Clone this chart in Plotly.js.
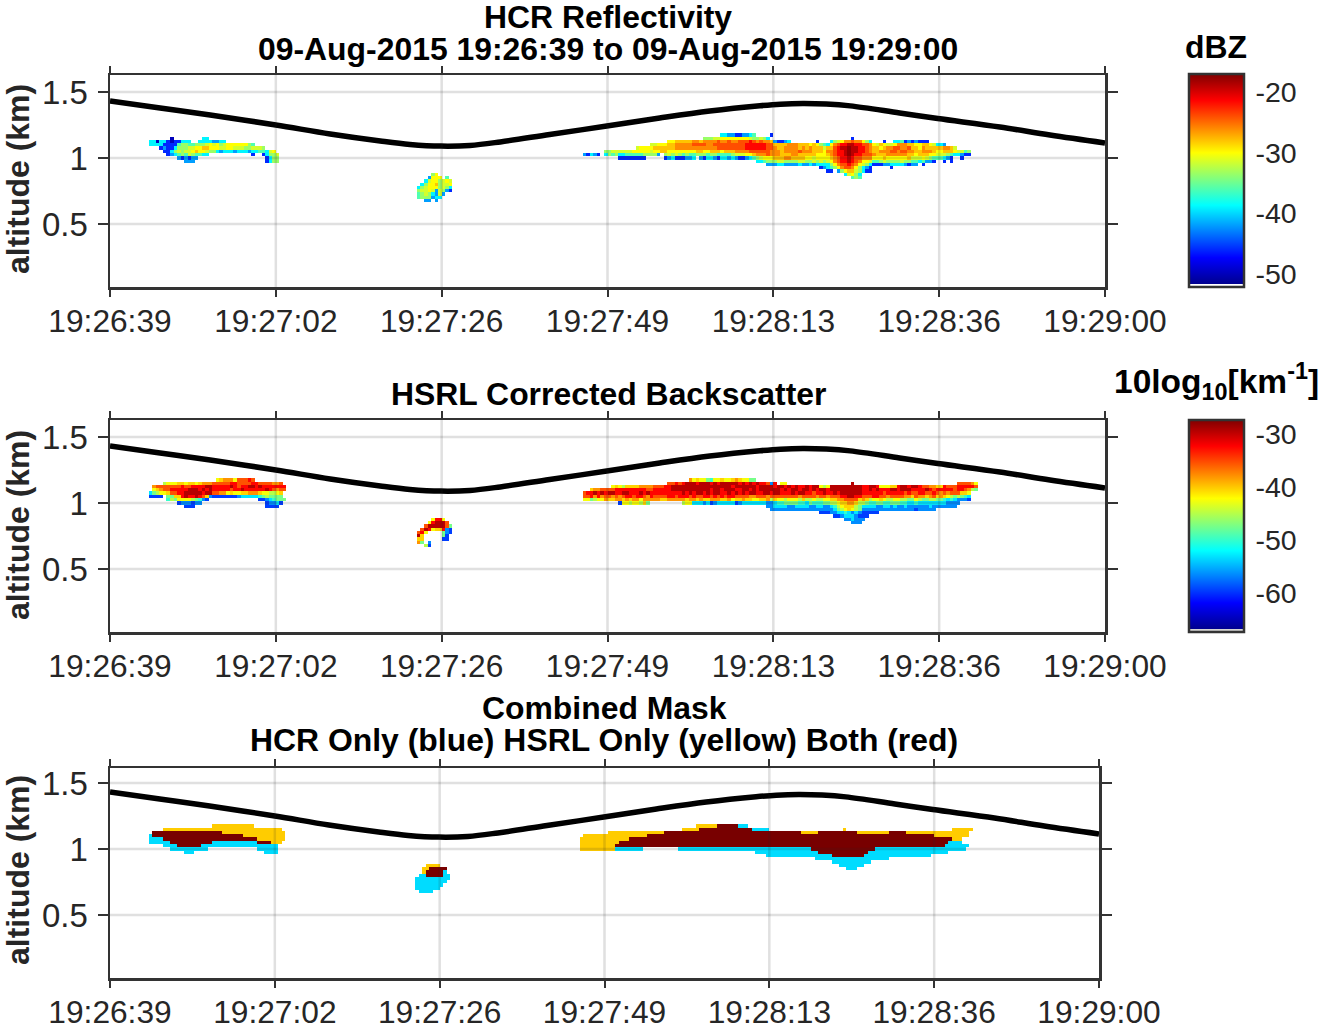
<!DOCTYPE html>
<html>
<head>
<meta charset="utf-8">
<script src="https://cdn.plot.ly/plotly-3.0.1.min.js"></script>
<style>html,body{margin:0;padding:0;background:#fff}</style>
</head>
<body>
<div id="chart" style="width:1320px;height:1029px"></div>
<script>
// ---------- chart values ----------
const tickTimes = ["19:26:39","19:27:02","19:27:26","19:27:49","19:28:13","19:28:36","19:29:00"];
const tickSeconds = [0,23.5,47,70.5,94,117.5,141];
const altTicks = [0.5,1,1.5];
const altTickText = ["0.5","1","1.5"];
const hcrBarTicks = [-20,-30,-40,-50];
const hsrlBarTicks = [-30,-40,-50,-60];

// aircraft altitude: seconds since 19:26:39, km
const flightSeconds = [0,7.1,14.2,23.5,31.2,38.3,42.5,46.9,51,55.3,62.3,70.4,77.9,85,92.1,95,98.2,101.5,104.9,111.9,117.3,126.1,133.2,141];
const flightAltitude = [1.432,1.379,1.326,1.25,1.182,1.129,1.103,1.09,1.095,1.122,1.178,1.242,1.303,1.356,1.396,1.408,1.413,1.409,1.395,1.341,1.299,1.235,1.174,1.114];

// reading levels for the letters in the cell rows
const hcrLevels = {a:-50,b:-46,c:-42,d:-39,e:-36,f:-33.5,g:-31.5,h:-30,i:-28,j:-26,k:-24,l:-21.5,m:-19,n:-17.5};
const hsrlLevels = {a:-65,b:-59.5,c:-56.5,d:-53,e:-50,f:-47.5,g:-45,h:-42.5,i:-40.5,j:-38,k:-35.5,l:-32.5,m:-29.5,n:-28};
const maskLevels = {c:1,y:2,r:3};

// HCR reflectivity: each row one altitude bin, each letter one half second
const hcrLeftRows = [
 "......a... .....dd... .......... .......",
 "ddaddbabbd dd..ddddcc dd........ .......",
 "ddddbbbbef feefffghgh fghhhhhhfe .......",
 "...bcbbdff fgghhiihhh gghhgggffg ggf....",
 "....bbdfgf gghihhgffd cdddcdddcd deedgh.",
 ".....bcdef egfeedd... .........b ..bdffg",
 "........cb cbcc...... .......... ...bdff",
 ".......... ccc....... .......... ...bdff"];
const hcrSmallRows = [
 "....fh....","...chhh.e.","..dghhfghg",".dfhhifggh","dfghhhfgfd","fgghgcgfcb","efgfdcgc..","efffcdd...","..cc.c...."];
const hcrRightRows = [
 ".......... .......... .......... .........d dccbbccde. ...b...... .......... .......... .......... .......... ..........",
 ".......... .......... .......... ....fffggh hhhhhhhgff gfd....... .......... ......b... .......... .......... ..........",
 ".......... .......... ....hhiiii ijjijjjjkj jkjjkkklkj kjjicbbcd. ......b... dfghjjkjjh fd...b..dd ebcbcbbb.. ..........",
 ".......... .........g ghhhiijjjj jkkkkjjkkk kkkkkkllll llkkiiiijj jiiihihfed hjkllmmllk kjhgihgghj jjiihhiihg ddc.......",
 ".......... .....ghhhh iiiiiijjjj jjjjjjjjkk kkkkkkllll llkkjiijjj jijijiiigi iklmmnmmll kjiihijjkk jjkiihjiii iijjig....",
 "......ffgg gggghhhhhg hhiihhhhhh hhiihhiiih iiijjjjkkk kkkjjjijjj jkjjjiiihj jkllmnmmll kjiijjjkkj kkjjiijjji hhiiihggef",
 "cbdcb.dfef ddeeeeefff fc.fgfgfef eefffeffee eefggghhij jjkjjjiiij jiiiiihhhi jkllmnmllk kkjiiijjjj jjiihiiihh gggfeddcbb",
 ".......... bbbbbbbb.. ...bcdbbbc cd.cbddcbd dcdcbbcdef ghhhiiijji iiihhghhhh ijkllmlkkj jjhhhihhhh hhiggghgfe eedcb..b..",
 ".......... .......... .......... .......... .........d defffggfff fggffgfgfg hjkllmlkjh hgeefgffff gffeedeccb ..b.b.....",
 ".......... .......... .......... .......... .......... ..cccddccc cdccdcdddd fhjkklkjhg fdbbbccddd dcbcc.b... ..........",
 ".......... .......... .......... .......... .......... .......... .......bcd efhjkkjhfd cb.....b.. .......... ..........",
 ".......... .......... .......... .......... .......... .......... .........b b.cfhiigfd bb........ .......... ..........",
 ".......... .......... .......... .......... .......... .......... .......... ....dghfd. .......... .......... ..........",
 ".......... .......... .......... .......... .......... .......... .......... ......efe. .......... .......... .........."];

// HSRL corrected backscatter
const hsrlLeftRows = [
 ".......... .........h ijjjhkkklk .........",
 "....ghhhii hiihijjjkk kkkllkkkkl lkkkkjjk.",
 ".jkkkkkkkl kkllllmmll lllmlkllmm lmlllllll",
 ".hijkkllll lmmmlmlmll lllkllmlll lllmlkjkk",
 "dfghhikkll mmmmmlmmkk jjhihhiijj jihhgghi.",
 "bbbb.ffiil mllmlkicbb bbbbbcdddd defgffff.",
 ".....egfhh hhgfecb... .......... .bbcdefff",
 "........bc ccbcc..... .......... ...bccdb.",
 ".......... bbb....... .......... ...bbbb.."];
const hsrlSmallRows = [
 "....hllh..","...hlmmmk.","..kmmmmmkf",".kmlhiilcb","klh....fcb","mi.....fb.","ii.....bb.","jf.c......","..gb......"];
const hsrlRightRows = [
 ".......... .......... .......... jhihhfehhi hhijihhff. .......... .......... .......... .......... .......... .......... ...",
 ".......... .......... ....kklklm mmlmmmlmlm mmmmlmlmlm llkcl.hh.. .......... ......m... .......... .......... ......kkkk jh.",
 "........hi hgiiiijjjj kkkllmmmmm mmmmmmmmmm mmlmmmmmml mmmmlmmlml mllmlmmhgh mmmmmmmmml lmmlhhhiil mmlmmlkkjj iilkkkllll lk.",
 "..ijjkkkkl llllllllkk lllllmmmmm mmmmmmlmml mmmllmmlml mmmmmmlmlm mlmmlmlmml mmmmmmmmml lmlmlllmml mmmllllmlk lllllkllkj gf.",
 "kllmlmlmml lmmlllmlml llllllllml mlmmlmlmml lmlmlmlmml lmmlmmlllm lmmllkllml lmlmmmmmml lllllkllll lklkkllkkl kjkjkkkiih ...",
 "kkljljkkjk jkllkllkjl kkkkllklll klkkllklkl kllkkkkjjk kkjkkkkkkk kjkkkkjkkj kkkllmmllk kkllkkjkkk kjjikjjijk ijihgfgfed ...",
 "hhfghhjiij jijijjhjjj jjiijjjjji jjijiijjji ijhiijiihh iijgihhghh hgigghgghh iijjkkkkij ighhihgghh ggffhgffgg ffededcccb ...",
 ".......... bhhghhgif. ........gh hdddcdbcdd dddbcddddd ddccdeefff feedfeeeff gghiijjigg feeffeefff eeddeddddd dddcccc... ...",
 ".......... .......... .......... .......... .......... ..ccddddcc ddddccddcc deghiiigfd dddccddcdc cdccccccdc cccccc.... ...",
 ".......... .......... .......... .......... .......... ...ccccccc cccccccccc cdfghihgfc cccccccccc ccccbccccc .......... ...",
 ".......... .......... .......... .......... .......... .......... .......bbb ccddedcdcb bbbb...... .......... .......... ...",
 ".......... .......... .......... .......... .......... .......... .......... .bbcdddcbb b......... .......... .......... ...",
 ".......... .......... .......... .......... .......... .......... .......... ....ccdccc .......... .......... .......... ...",
 ".......... .......... .......... .......... .......... .......... .......... ......ccc. .......... .......... .......... ..."];

// combined mask, as runs along each altitude bin: c HCR only, y HSRL only, r both
const maskLeftRuns = ["18. 12y","4. 34y","1. 20r 18y","1c 26r 12y","4c 27r 8y","6c 12r 13c 4r 3y","4. 4c 7r 22c","6. 11c 14. 6c","10. 3c 20. 4c"];
const maskSmallRuns = ["3. 4y","2. 2y 5r","2. 1y 5r 1c","1. 2c 5r 2c","10c","9c","8c","7c","1. 4c"];
const maskRightRuns = ["33. 6y 6r 3c","29. 5y 15r 5c 21. 1y 30. 6y","8. 16y 39r 5y 11r 9y 5r 18y","1. 18y 82r 10y","14y 92r 3y","11y 94r 4c","10y 94r 7c",
 "10y 8c 10. 38c 18r 26c","50. 18c 14r 23c","53. 19c 9r 19c","67. 21c","72. 11c","74. 7c","76. 3c"];

// first second and top altitude bin of each cloud
const leftCloud = {start:5.5, topHcr:1.15, topHsrl:1.175, topMask:1.175};
const smallCloud = {start:43.5, topHcr:0.875, topHsrl:0.875, topMask:0.875};
const rightCloud = {start:67, top:1.175};

// ---------- grid ----------
const binSeconds = 0.5, binKm = 0.025;
const nCols = 282, firstAltBin = 26, nRows = 24;  // 0.65 .. 1.225 km
const gridX = Array.from({length:nCols},(_,i)=>(i+0.5)*binSeconds);
const gridY = Array.from({length:nRows},(_,j)=>(firstAltBin+j)*binKm);
function emptyGrid(){return gridY.map(()=>gridX.map(()=>null));}
function put(z,rows,startS,topAlt,levels){
  const c0=Math.round(startS/binSeconds);
  rows.forEach((row,r)=>{
    const j=Math.round(topAlt/binKm)-r-firstAltBin;
    if(j<0||j>=nRows) return;
    [...row].forEach((ch,i)=>{ if(levels[ch]!==undefined) z[j][c0+i]=levels[ch]; });
  });
}
function cells(rows){return rows.map(s=>s.replace(/ /g,''));}
function runs(rows){return rows.map(s=>s.split(' ').map(t=>t.slice(-1).repeat(parseInt(t))).join(''));}

const zHcr=emptyGrid(), zHsrl=emptyGrid(), zMask=emptyGrid();
put(zHcr,cells(hcrLeftRows),leftCloud.start,leftCloud.topHcr,hcrLevels);
put(zHcr,cells(hcrSmallRows),smallCloud.start,smallCloud.topHcr,hcrLevels);
put(zHcr,cells(hcrRightRows),rightCloud.start,rightCloud.top,hcrLevels);
put(zHsrl,cells(hsrlLeftRows),leftCloud.start,leftCloud.topHsrl,hsrlLevels);
put(zHsrl,cells(hsrlSmallRows),smallCloud.start,smallCloud.topHsrl,hsrlLevels);
put(zHsrl,cells(hsrlRightRows),rightCloud.start,rightCloud.top,hsrlLevels);
put(zMask,runs(maskLeftRuns),leftCloud.start,leftCloud.topMask,maskLevels);
put(zMask,runs(maskSmallRuns),smallCloud.start,smallCloud.topMask,maskLevels);
put(zMask,runs(maskRightRuns),rightCloud.start,rightCloud.top,maskLevels);

// ---------- styling ----------
const W=1320,H=1029;
const FONT='"Liberation Sans", Arial, Helvetica, sans-serif';
const INK='#262626', AXIS='#333333';
function jet(base,gap){
  const m=t=>gap+(1-gap)*t;
  return [[0,base],[gap,base],[gap,'#00008f'],[m(.125),'#0000ff'],[m(.375),'#00ffff'],[m(.625),'#ffff00'],[m(.875),'#ff0000'],[1,'#800000']];
}
const maskScale=[[0,'#00dcff'],[.25,'#00dcff'],[.25,'#ffcc00'],[.75,'#ffcc00'],[.75,'#780000'],[1,'#780000']];
function cbar(ticks,topPx,lenPx){
  return {x:1189/W,xanchor:'left',xref:'paper',y:1-topPx/H,yanchor:'top',yref:'paper',
    thickness:55,thicknessmode:'pixels',len:lenPx,lenmode:'pixels',xpad:0,ypad:0,
    outlinecolor:AXIS,outlinewidth:2.5,
    tickmode:'array',tickvals:ticks,ticktext:ticks.map(String),ticks:'outside',ticklen:5,tickcolor:'rgba(0,0,0,0)',
    tickfont:{family:FONT,size:28.5,color:INK}};
}
const data=[
 {type:'heatmap',x:gridX,y:gridY,z:zHcr,xaxis:'x',yaxis:'y',zmin:-52.2,zmax:-17,colorscale:jet('#ffffff',0.014),zsmooth:false,hoverongaps:false,
  colorbar:cbar(hcrBarTicks,74,213)},
 {type:'heatmap',x:gridX,y:gridY,z:zHsrl,xaxis:'x2',yaxis:'y2',zmin:-67.4,zmax:-27.4,colorscale:jet('#d4d4d4',0.014),zsmooth:false,hoverongaps:false,
  colorbar:cbar(hsrlBarTicks,420,212)},
 {type:'heatmap',x:gridX,y:gridY,z:zMask,xaxis:'x3',yaxis:'y3',zmin:1,zmax:3,colorscale:maskScale,zsmooth:false,hoverongaps:false,showscale:false},
 ...[['x','y'],['x2','y2'],['x3','y3']].map(([a,b])=>({type:'scatter',mode:'lines',x:flightSeconds,y:flightAltitude,xaxis:a,yaxis:b,
   line:{color:'#000000',width:5.5,shape:'spline',smoothing:1},showlegend:false,hoverinfo:'skip'}))
];
function xAxis(anchor,left,right){
  return {anchor,domain:[left/W,right/W],range:[0,141],tickmode:'array',tickvals:tickSeconds,ticktext:tickTimes,
    ticks:'outside',ticklen:7,tickwidth:2,tickcolor:AXIS,showline:true,linecolor:AXIS,linewidth:2.5,mirror:'ticks',
    showgrid:false,zeroline:false,tickangle:0,ticklabelstandoff:-3,tickfont:{family:FONT,size:31.7,color:INK}};
}
function yAxis(anchor,topPx,botPx,y15){
  const hi=1.5+(y15-topPx)/132;
  return {anchor,domain:[1-botPx/H,1-topPx/H],range:[hi-(botPx-topPx)/132,hi],
    tickmode:'array',tickvals:altTicks,ticktext:altTickText,
    ticks:'outside',ticklen:10,tickwidth:2,tickcolor:AXIS,showline:true,linecolor:AXIS,linewidth:2.5,mirror:'ticks',
    showgrid:false,zeroline:false,ticklabelstandoff:3,tickfont:{family:FONT,size:33,color:INK}};
}
const shapes=[];
const GRID={color:'rgba(38,38,38,0.14)',width:2.5};
[['x','y'],['x2','y2'],['x3','y3']].forEach(([a,b])=>{
  tickSeconds.slice(1,-1).forEach(v=>shapes.push({type:'line',layer:'above',xref:a,yref:b+' domain',x0:v,x1:v,y0:0,y1:1,line:GRID}));
  altTicks.forEach(v=>shapes.push({type:'line',layer:'above',xref:a+' domain',yref:b,x0:0,x1:1,y0:v,y1:v,line:GRID}));
});
// short inner tick marks on the colour bars
function barTicks(ticks,zmax,zmin,topPx,lenPx){
  ticks.forEach(v=>{
    const yy=1-(topPx+(zmax-v)/(zmax-zmin)*lenPx)/H;
    shapes.push({type:'line',layer:'above',xref:'paper',yref:'paper',x0:1241/W,x1:1245/W,y0:yy,y1:yy,line:{color:AXIS,width:1.5}});
  });
}
barTicks(hcrBarTicks,-17,-52.2,74,213);
barTicks(hsrlBarTicks,-27.4,-67.4,420,212);
function label(text,xPx,yPx,opts){
  return Object.assign({text,xref:'paper',yref:'paper',x:xPx/W,y:1-yPx/H,xanchor:'center',yanchor:'middle',showarrow:false,
    font:{family:FONT,size:31.9,color:'#000000',weight:700}},opts||{});
}
const axisLabelFont={family:FONT,size:32,color:INK,weight:700};
const annotations=[
 label('HCR Reflectivity',608,17),
 label('09-Aug-2015 19:26:39 to 09-Aug-2015 19:29:00',608,49),
 label('HSRL Corrected Backscatter',608,394),
 label('Combined Mask',604,708),
 label('HCR Only (blue) HSRL Only (yellow) Both (red)',604,740),
 label('dBZ',1216,47),
 label('10log<sub>10</sub>[km<sup>-1</sup>]',1216,381,{font:{family:FONT,size:33.5,color:'#000000',weight:700}}),
 label('altitude (km)',18,179,{textangle:-90,font:axisLabelFont}),
 label('altitude (km)',18,525,{textangle:-90,font:axisLabelFont}),
 label('altitude (km)',18,870,{textangle:-90,font:axisLabelFont})
];
const layout={width:W,height:H,margin:{l:0,r:0,t:0,b:0,pad:0,autoexpand:false},paper_bgcolor:'#fff',plot_bgcolor:'#fff',showlegend:false,
  xaxis:xAxis('y',110,1105),xaxis2:xAxis('y2',110,1105),xaxis3:xAxis('y3',110,1099),
  yaxis:yAxis('x',75,287,92),yaxis2:yAxis('x2',420,632,437),yaxis3:yAxis('x3',768,978,783),shapes,annotations};
Plotly.newPlot('chart',data,layout,{displayModeBar:false,staticPlot:true});
</script>
</body>
</html>
